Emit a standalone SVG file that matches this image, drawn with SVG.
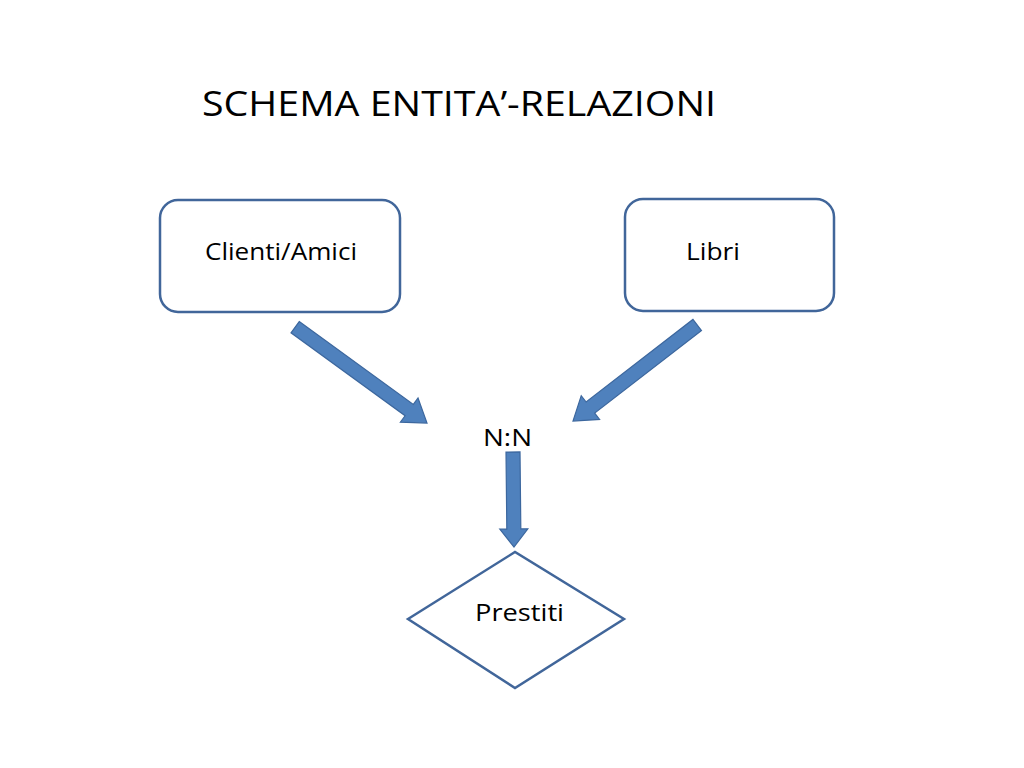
<svg xmlns="http://www.w3.org/2000/svg" width="1024" height="768" viewBox="0 0 1024 768">
<defs>
<style>
.box{fill:#fff;stroke:#41669A;stroke-width:2.5}
.txt{font-family:"Open Sans","DejaVu Sans",sans-serif;fill:#000}
.arr{fill:#4F81BD;stroke:#3C679E;stroke-width:1.2}
</style>
</defs>
<rect width="1024" height="768" fill="#fff"/>
<text class="txt" x="202" y="116" font-size="35" textLength="514" lengthAdjust="spacingAndGlyphs">SCHEMA ENTITA’-RELAZIONI</text>
<g id="clienti">
<rect class="box" x="160" y="200" width="240" height="112" rx="18"/>
<text class="txt" x="205" y="260" font-size="24" textLength="152" lengthAdjust="spacingAndGlyphs">Clienti/Amici</text>
</g>
<g id="libri">
<rect class="box" x="625" y="199" width="209" height="112" rx="18"/>
<text class="txt" x="686" y="260" font-size="24" textLength="54" lengthAdjust="spacingAndGlyphs">Libri</text>
</g>
<g id="nn">
<text class="txt" x="483" y="446" font-size="24" textLength="49" lengthAdjust="spacingAndGlyphs">N:N</text>
</g>
<g id="prestiti">
<polygon class="box" points="408,619 515,552 624,619 515,688"/>
<text class="txt" x="475" y="621" font-size="24" textLength="89" lengthAdjust="spacingAndGlyphs">Prestiti</text>
</g>
<g id="connectors">
<polygon class="arr" transform="translate(427,423) rotate(36)" points="-163,-7 -22,-7 -22,-15 0,0 -22,15 -22,7 -163,7"/>
<polygon class="arr" transform="translate(573,421) rotate(142.3)" points="-157,-7 -22,-7 -22,-15 0,0 -22,15 -22,7 -157,7"/>
<polygon class="arr" transform="translate(514,547) rotate(89.4)" points="-95,-7 -18,-7 -18,-14 0,0 -18,14 -18,7 -95,7"/>
</g>
</svg>
